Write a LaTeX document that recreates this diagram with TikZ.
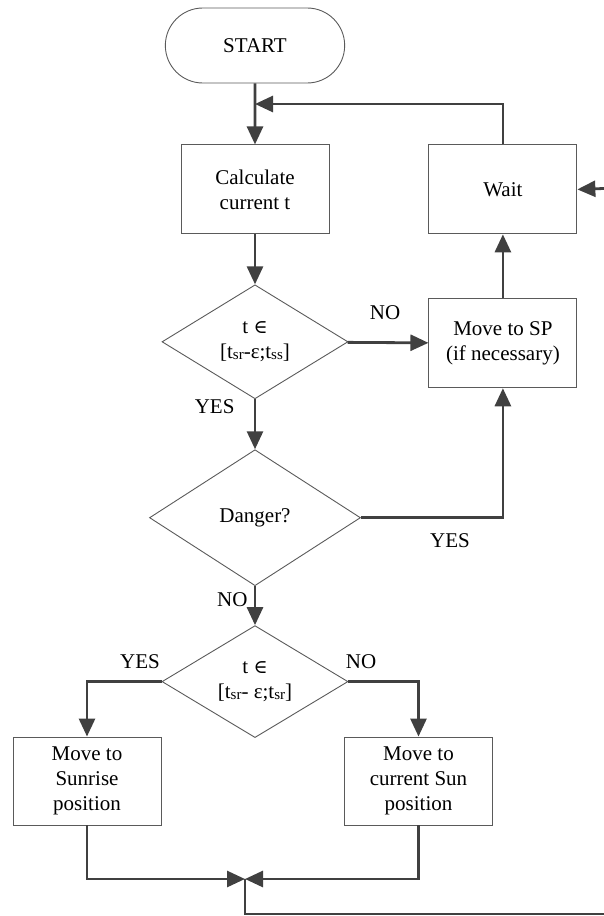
\documentclass[tikz,border=0pt]{standalone}
\usepackage{fontspec}
\setmainfont{Liberation Serif}
\newfontfamily\symbolfont{DejaVu Serif}
\usetikzlibrary{arrows.meta, positioning, shapes.geometric, shapes.misc}

\definecolor{flowline}{HTML}{404040}
\definecolor{boxline}{HTML}{5A5A5A}
\newcommand{\lowtxt}[1]{\raisebox{-1pt}{\fontsize{15}{15}\selectfont #1}}
\newcommand{\elemof}{{\symbolfont\fontsize{19}{19}\selectfont ∈}}

\begin{document}
\begin{tikzpicture}[x=1pt, y=-1pt,
        font=\fontsize{21}{25}\selectfont,
        block/.style={draw=boxline, line width=0.9pt, minimum width=148pt, minimum height=89pt,
                      inner sep=0pt, align=center},
        decision/.style={draw=boxline, line width=0.9pt, diamond, shape aspect=1.63, inner sep=0pt,
                         minimum width=186pt, minimum height=114pt, align=center},
        terminal/.style={draw=boxline, line width=0.9pt, rounded rectangle,
                         minimum width=186pt, minimum height=75pt},
        flow/.style={draw=flowline, line width=2.8pt, -{Triangle[length=18pt, width=16pt]}},
        plain/.style={draw=flowline, line width=2.8pt}]

    \useasboundingbox (0,0) rectangle (604,916);

    % main column
    \node[terminal] (start) at (255,45.5) {START};
    \node[block, below=61pt of start] (calc) {Calculate\\current t};
    \node[decision, below=50pt of calc] (inrange) {t \elemof\\{}[t\lowtxt{sr}-ε;t\lowtxt{ss}]};
    \node[decision, minimum width=211pt, minimum height=136pt, shape aspect=1.55,
          below=50pt of inrange] (danger) {Danger?};
    \node[decision, minimum height=112pt, below=39pt of danger] (sunrange)
        {t \elemof\\{}[t\lowtxt{sr}- ε;t\lowtxt{sr}]};

    % right column
    \node[block, right=99pt of calc] (wait) {Wait};
    \node[block, below=64pt of wait] (movesp) {Move to SP\\(if necessary)};

    % bottom row
    \node[block, minimum height=88pt] (sunrise) at (87,781) {Move to\\Sunrise\\position};
    \node[block, minimum height=88pt] (sunpos) at (418.5,781) {Move to\\current Sun\\position};

    % branch labels
    \node (noA) at (385,313) {NO};
    \node[anchor=east] (yesA) at (238,407) {YES};
    \node (yesB) at (450,541) {YES};
    \node[anchor=east] (noB) at (251,600) {NO};
    \node (yesC) at (140,662) {YES};
    \node (noC) at (361,662) {NO};

    % corner points of the loops
    \coordinate (loop) at (255,104);
    \coordinate (join) at (245,879);
    \coordinate (retcorner) at (245,914);
    \coordinate (retend) at (604,914);
    \coordinate (waitin) at (604,188.5);

    % connectors
    \draw[flow] (start) -- (calc);
    \draw[flow] (calc) -- (inrange);
    \draw[flow] (inrange) -- (danger);
    \draw[flow] (danger) -- (sunrange);
    \draw[flow] (inrange) -- (movesp);
    \draw[flow] (movesp) -- (wait);
    \draw[flow] (wait.north) |- (loop);
    \draw[flow] (danger.east) -| (movesp.south);
    \draw[flow] (sunrange.west) -| (sunrise.north);
    \draw[flow] (sunrange.east) -| (sunpos.north);
    \draw[flow] (sunrise.south) |- (join);
    \draw[flow] (sunpos.south) |- (join);
    \draw[plain] (join) -- (retcorner) -- (retend);
    \draw[flow] (waitin) -- (wait.east);
\end{tikzpicture}
\end{document}
